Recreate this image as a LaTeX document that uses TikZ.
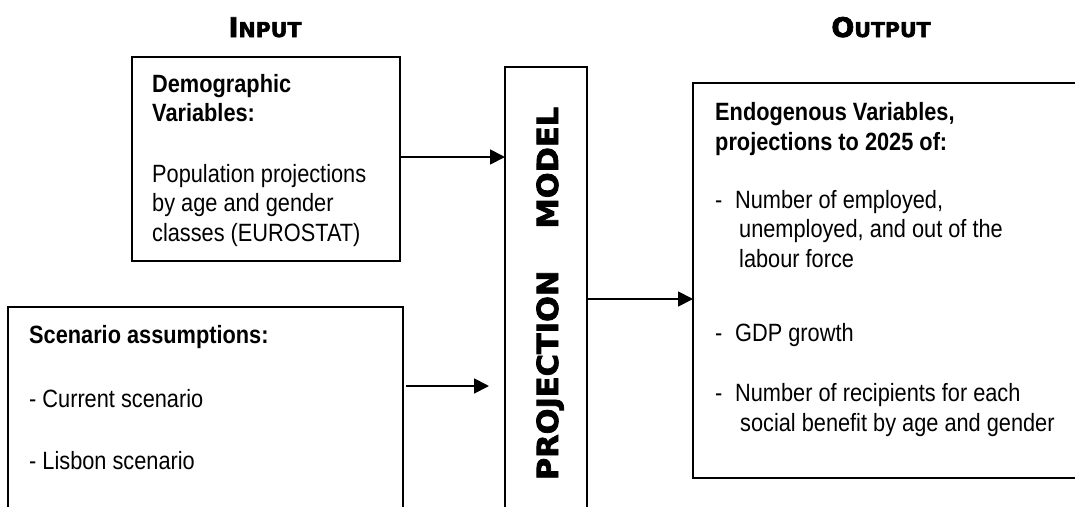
\documentclass[tikz,border=0pt]{standalone}
\usepackage{fontspec}
\setmainfont{Liberation Sans}[FakeStretch=0.87]
\newfontfamily\heavy{DejaVu Sans}[BoldFeatures={FakeBold=2.6}]
\usetikzlibrary{arrows.meta}
\tikzset{
  box/.style={draw=black, line width=1.8pt, anchor=north west, inner sep=0pt, outer sep=0pt},
  txt/.style={anchor=base west, inner sep=0pt, font=\fontsize{25pt}{29.5pt}\selectfont},
  title/.style={anchor=base, inner sep=0pt},
  arr/.style={line width=1.8pt, -{Triangle[length=15pt,width=15pt]}},
}
\begin{document}
\begin{tikzpicture}[x=1pt,y=-1pt]
\useasboundingbox (0,0) rectangle (1075,506);
\begin{scope}
\clip (0,0) rectangle (1075,506);
% titles
\node[title] (tin) at (265,37) {\heavy\bfseries\fontsize{27pt}{30pt}\selectfont I\fontsize{20.5pt}{24pt}\selectfont NPUT};
\node[title] (tout) at (881,37) {\heavy\bfseries\fontsize{27pt}{30pt}\selectfont O\fontsize{20.5pt}{24pt}\selectfont UTPUT};
% boxes
\node[box, minimum width=268pt, minimum height=204pt] (demo) at (132,57) {};
\node[box, minimum width=395pt, minimum height=230pt] (scen) at (8,307) {};
\node[box, minimum width=82pt, minimum height=460pt] (proj) at (505,67) {};
\node[box, minimum width=400pt, minimum height=395pt] (out) at (693,83) {};
% projection label
\node[rotate=90, anchor=base, inner sep=0pt] (plab) at (558,293.5)
  {\heavy\bfseries\addfontfeatures{FakeStretch=1.05}\fontsize{29pt}{32pt}\selectfont PROJECTION\hspace{42pt}MODEL};
% texts
\node[txt] (demotxt) at (152,92) {\begin{tabular}[t]{@{}l@{}}
\textbf{Demographic}\\
\textbf{Variables:}\\[31pt]
Population projections\\
by age and gender\\
classes (EUROSTAT)
\end{tabular}};
\node[txt] (scentxt) at (29,343) {\begin{tabular}[t]{@{}l@{}}
\textbf{Scenario assumptions:}\\[34.5pt]
- Current scenario\\[32.5pt]
- Lisbon scenario
\end{tabular}};
\node[txt] (outtxt) at (715,120.7) {\begin{tabular}[t]{@{}l@{}}
\textbf{Endogenous Variables,}\\
\textbf{projections to 2025 of:}\\[28.5pt]
\makebox[20pt][l]{-}Number of employed,\\
\hspace{24pt}unemployed, and out of the\\
\hspace{24pt}labour force\\[44.5pt]
\makebox[20pt][l]{-}GDP growth\\[31pt]
\makebox[20pt][l]{-}Number of recipients for each\\
\hspace{25pt}social benefit by age and gender
\end{tabular}};
% connectors
\coordinate (s1) at ([xshift=3pt,yshift=-79pt]scen.north east);
\coordinate (s2) at (s1 -| proj.west);
\draw[arr] ([yshift=2pt]demo.east) -- ([yshift=2pt]demo.east -| proj.west);
\draw[arr] (s1) -- ([xshift=-16pt]s2);
\draw[arr] ([yshift=-18.5pt]out.west -| proj.east) -- ([yshift=-18.5pt]out.west);
\end{scope}
\end{tikzpicture}
\end{document}
